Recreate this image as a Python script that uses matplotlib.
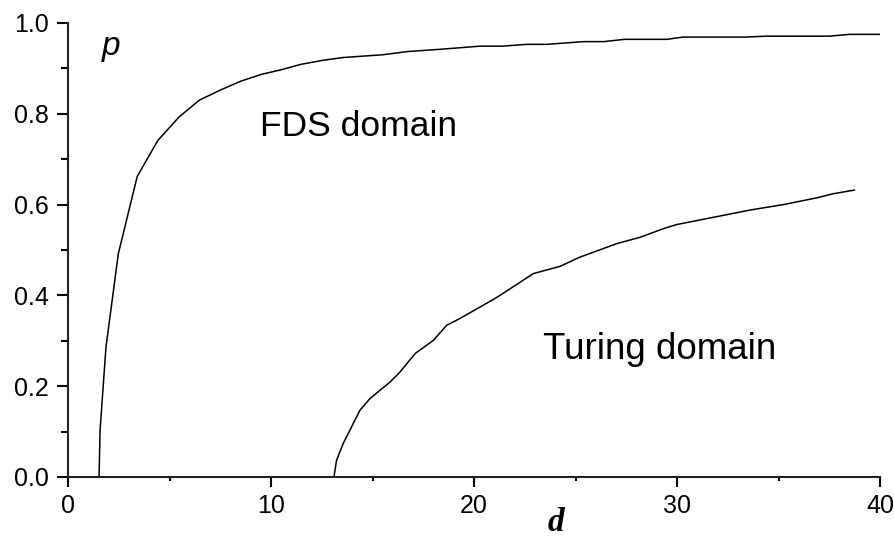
import numpy as np
import matplotlib
matplotlib.use('Agg')
import matplotlib.pyplot as plt
from matplotlib.ticker import MultipleLocator, FormatStrFormatter

# FDS boundary (upper curve)
fds_d = [1.53, 1.58, 1.87, 2.48, 3.41, 4.42, 5.47, 6.47, 7.49, 8.52, 9.54, 10.5,
         11.48, 12.58, 13.56, 15.5, 16.7, 18.3, 20.3, 21.4, 22.6, 23.6, 25.4,
         26.4, 27.4, 29.5, 30.3, 33.4, 34.4, 37.5, 38.5, 40.0]
fds_p = [0.0, 0.103, 0.286, 0.492, 0.662, 0.741, 0.793, 0.830, 0.852, 0.872,
         0.887, 0.897, 0.909, 0.918, 0.924, 0.930, 0.937, 0.942, 0.949, 0.949,
         0.953, 0.953, 0.959, 0.959, 0.964, 0.964, 0.969, 0.969, 0.971, 0.971,
         0.975, 0.975]

# Turing boundary (lower curve)
tur_d = [13.1, 13.23, 13.56, 14.38, 14.88, 15.86, 16.35, 17.1, 18.0, 18.65,
         19.3, 20.87, 21.28, 22.92, 24.24, 25.2, 27.03, 28.18, 29.33, 29.98,
         31.79, 33.6, 35.24, 36.9, 37.7, 38.74]
tur_p = [0.0, 0.037, 0.074, 0.147, 0.173, 0.209, 0.231, 0.272, 0.301, 0.334,
         0.349, 0.389, 0.400, 0.448, 0.464, 0.484, 0.514, 0.528, 0.547, 0.556,
         0.572, 0.588, 0.600, 0.615, 0.624, 0.632]

plt.rcParams['font.family'] = ['Liberation Sans', 'DejaVu Sans']

fig = plt.figure(figsize=(8.95, 5.37), dpi=100)
ax = fig.add_axes([68/895, 60/537, 812/895, 454/537])

ax.plot(fds_d, fds_p, color='black', lw=1.1)
ax.plot(tur_d, tur_p, color='black', lw=1.1)

ax.set_xlim(0, 40)
ax.set_ylim(0, 1.0)
ax.spines['top'].set_visible(False)
ax.spines['right'].set_visible(False)
for s in ['left', 'bottom']:
    ax.spines[s].set_linewidth(1.5)
    ax.spines[s].set_color('#222222')

ax.xaxis.set_major_locator(MultipleLocator(10))
ax.xaxis.set_minor_locator(MultipleLocator(5))
ax.yaxis.set_major_locator(MultipleLocator(0.2))
ax.yaxis.set_minor_locator(MultipleLocator(0.1))
ax.yaxis.set_major_formatter(FormatStrFormatter('%.1f'))

ax.tick_params(axis='x', which='major', length=7.2, width=1.5, pad=5, labelsize=18)
ax.tick_params(axis='x', which='minor', length=3.2, width=1.5)
ax.tick_params(axis='y', which='major', length=8, width=1.5, pad=6, labelsize=18)
ax.tick_params(axis='y', which='minor', length=4.8, width=1.5)

ax.text(1.67, 0.93, 'p', fontsize=24, style='italic', va='baseline')
ax.text(9.46, 0.752, 'FDS domain', fontsize=25.5, va='baseline')
ax.text(23.4, 0.259, 'Turing domain', fontsize=26.5, va='baseline')

fig.text(548/895, 6/537, 'd', fontsize=24, fontweight='bold', style='italic',
         family=['Liberation Serif', 'DejaVu Serif'], va='baseline')

fig.savefig('out.png', dpi=100)
